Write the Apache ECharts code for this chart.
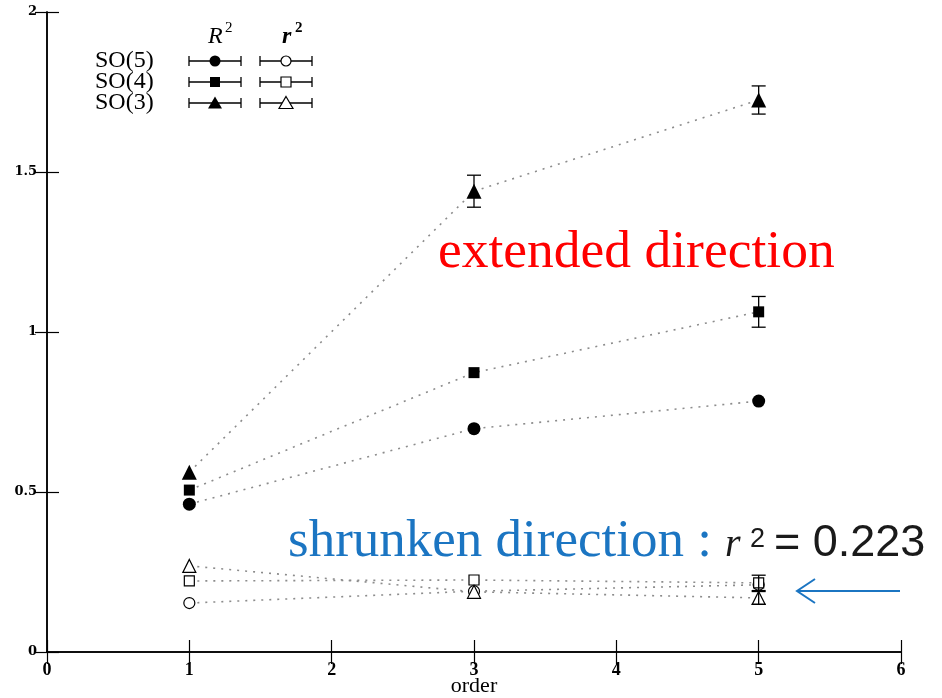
<!DOCTYPE html>
<html>
<head>
<meta charset="utf-8">
<script src="https://cdn.jsdelivr.net/npm/echarts@6/dist/echarts.min.js"></script>
<style>
  html, body { margin: 0; padding: 0; background: #fff; }
  #chart { width: 942px; height: 698px; }
</style>
</head>
<body>
<div id="chart"></div>
<script>
// Perturbation order on the horizontal axis
const orders = [1, 3, 5];

// Mean-square radius R^2 (extended direction) per group
const R2_SO5 = [0.462, 0.698, 0.784];
const R2_SO4 = [0.506, 0.873, 1.063];
const R2_SO3 = [0.562, 1.440, 1.725];
const R2_SO5_err = [0, 0, 0];
const R2_SO4_err = [0, 0, 0.048];
const R2_SO3_err = [0, 0.050, 0.044];

// Mean-square radius r^2 (shrunken direction) per group
const r2_SO5 = [0.153, 0.190, 0.210];
const r2_SO4 = [0.222, 0.225, 0.216];
const r2_SO3 = [0.269, 0.188, 0.169];
const r2_SO5_err = [0, 0, 0];
const r2_SO4_err = [0, 0, 0.024];
const r2_SO3_err = [0, 0, 0.020];

// Axis ticks
const xTicks = [0, 1, 2, 3, 4, 5, 6];
const yTicks = [0, 0.5, 1, 1.5, 2];
const xAxisTitle = 'order';
const groupNames = ['SO(5)', 'SO(4)', 'SO(3)'];

const chart = echarts.init(document.getElementById('chart'), null, { renderer: 'canvas' });

const dotLine = { color: '#8c8c8c', width: 1.6, type: [2, 6] };
const filled = { color: '#000', borderColor: '#000', borderWidth: 0 };
const hollow = { color: '#fff', borderColor: '#000', borderWidth: 1.2 };

function pairs(vals) { return orders.map((x, i) => [x, vals[i]]); }
function errPairs(vals, errs) {
  return orders.map((x, i) => [x, vals[i], errs[i]]).filter(d => d[2] > 0);
}

function lineSeries(name, vals, symbol, size, style) {
  return {
    name, type: 'line', data: pairs(vals),
    symbol, symbolSize: size, showSymbol: true,
    lineStyle: dotLine, itemStyle: style,
    emphasis: { disabled: true }, z: 3, animation: false
  };
}

function errSeries(vals, errs) {
  return {
    type: 'custom', data: errPairs(vals, errs), z: 4, animation: false,
    renderItem(params, api) {
      const x = api.value(0), y = api.value(1), e = api.value(2);
      const top = api.coord([x, y + e]);
      const bot = api.coord([x, y - e]);
      const cap = 7;
      const st = { stroke: '#000', lineWidth: 1.3 };
      return {
        type: 'group',
        children: [
          { type: 'line', shape: { x1: top[0], y1: top[1], x2: bot[0], y2: bot[1] }, style: st },
          { type: 'line', shape: { x1: top[0] - cap, y1: top[1], x2: top[0] + cap, y2: top[1] }, style: st },
          { type: 'line', shape: { x1: bot[0] - cap, y1: bot[1], x2: bot[0] + cap, y2: bot[1] }, style: st }
        ]
      };
    }
  };
}

// Legend block drawn with graphic shapes
const legendX = [215, 286];
const legendRowsY = [61, 82, 103];
const legendGraphics = [];
const blue = '#1b75c2';
const dark = '#1a1a1a';
function legendSample(cx, cy, kind, isFilled) {
  const st = { stroke: '#000', lineWidth: 1.3 };
  legendGraphics.push({ type: 'line', shape: { x1: cx - 26, y1: cy, x2: cx + 26, y2: cy }, style: st });
  legendGraphics.push({ type: 'line', shape: { x1: cx - 26, y1: cy - 5, x2: cx - 26, y2: cy + 5 }, style: st });
  legendGraphics.push({ type: 'line', shape: { x1: cx + 26, y1: cy - 5, x2: cx + 26, y2: cy + 5 }, style: st });
  const ms = isFilled ? { fill: '#000', stroke: '#000', lineWidth: 0 } : { fill: '#fff', stroke: '#000', lineWidth: 1.2 };
  if (kind === 'circle') {
    legendGraphics.push({ type: 'circle', shape: { cx, cy, r: isFilled ? 5.5 : 5 }, style: ms, z: 10 });
  } else if (kind === 'rect') {
    legendGraphics.push({ type: 'rect', shape: { x: cx - 5, y: cy - 5, width: 10, height: 10 }, style: ms, z: 10 });
  } else {
    legendGraphics.push({ type: 'polygon', shape: { points: [[cx, cy - 6.5], [cx + 7, cy + 5.5], [cx - 7, cy + 5.5]] }, style: ms, z: 10 });
  }
}
const kinds = ['circle', 'rect', 'triangle'];
legendRowsY.forEach((y, i) => {
  legendGraphics.push({
    type: 'text', x: 95, y: y, style: {
      text: groupNames[i], fill: '#000', font: '24px "Liberation Serif"',
      verticalAlign: 'middle'
    }
  });
  legendSample(legendX[0], y, kinds[i], true);
  legendSample(legendX[1], y, kinds[i], false);
});
legendGraphics.push({ type: 'text', x: 208, y: 37, style: { text: 'R', fill: '#000', font: 'italic 24px "Liberation Serif"', verticalAlign: 'middle' } });
legendGraphics.push({ type: 'text', x: 225, y: 28, style: { text: '2', fill: '#000', font: '15px "Liberation Serif"', verticalAlign: 'middle' } });
legendGraphics.push({ type: 'text', x: 282, y: 37, style: { text: 'r', fill: '#000', font: 'italic bold 24px "Liberation Serif"', verticalAlign: 'middle' } });
legendGraphics.push({ type: 'text', x: 295, y: 28, style: { text: '2', fill: '#000', font: 'bold 15px "Liberation Serif"', verticalAlign: 'middle' } });

// Annotations and the horizontal axis title
const annotations = [
  { type: 'text', x: 474, y: 686, style: { text: xAxisTitle, fill: '#000', font: '22px "Liberation Serif"', align: 'center', verticalAlign: 'middle' } },
  { type: 'text', x: 438, y: 226, style: { text: 'extended direction', fill: '#ff0000', font: '53.5px "Liberation Serif"', verticalAlign: 'top' } },
  { type: 'text', x: 288, y: 516, style: { text: 'shrunken direction :', fill: blue, font: '53px "Liberation Serif"', verticalAlign: 'top' } },
  { type: 'text', x: 725, y: 525, style: { text: 'r', fill: dark, font: 'italic 40px "Liberation Serif"', verticalAlign: 'top' } },
  { type: 'text', x: 750, y: 526, style: { text: '2', fill: dark, font: '27px "Liberation Sans"', verticalAlign: 'top' } },
  { type: 'text', x: 774, y: 521, style: { text: '= 0.223', fill: dark, font: '45px "Liberation Sans"', verticalAlign: 'top' } },
  { type: 'polyline', shape: { points: [[900, 591], [797, 591]] }, style: { stroke: blue, lineWidth: 2 } },
  { type: 'polyline', shape: { points: [[815, 579], [797, 591], [815, 603]] }, style: { stroke: blue, lineWidth: 2, fill: null } }
];

const axisLine = { show: true, lineStyle: { color: '#000', width: 1.5 } };
const tick = { show: true, inside: true, length: 12, lineStyle: { color: '#000', width: 1.2 } };

chart.setOption({
  backgroundColor: '#fff',
  animation: false,
  grid: { left: 47, right: 41, top: 12, bottom: 46, containLabel: false, outerBoundsMode: 'none' },
  xAxis: [
    {
      type: 'value', min: xTicks[0], max: xTicks[xTicks.length - 1], interval: 1,
      axisLine, axisTick: tick, splitLine: { show: false },
      axisLabel: { margin: 9, fontFamily: 'Liberation Serif', fontWeight: 'bold', fontSize: 18, color: '#000' }
    },
    {
      type: 'value', position: 'top', min: xTicks[0], max: xTicks[xTicks.length - 1], interval: 1,
      axisLine, axisTick: tick, splitLine: { show: false }, axisLabel: { show: false }
    }
  ],
  yAxis: [
    {
      type: 'value', min: yTicks[0], max: yTicks[yTicks.length - 1], interval: 0.5,
      axisLine, axisTick: tick, splitLine: { show: false },
      axisLabel: { margin: 10, fontFamily: 'DejaVu Serif', fontWeight: 'bold', fontSize: 13, color: '#000' }
    },
    {
      type: 'value', position: 'right', min: yTicks[0], max: yTicks[yTicks.length - 1], interval: 0.5,
      axisLine, axisTick: tick, splitLine: { show: false }, axisLabel: { show: false }
    }
  ],
  series: [
    lineSeries('R2 SO(5)', R2_SO5, 'circle', 13, filled),
    lineSeries('R2 SO(4)', R2_SO4, 'rect', 11, filled),
    lineSeries('R2 SO(3)', R2_SO3, 'triangle', 15, filled),
    lineSeries('r2 SO(5)', r2_SO5, 'circle', 11, hollow),
    lineSeries('r2 SO(4)', r2_SO4, 'rect', 10, hollow),
    lineSeries('r2 SO(3)', r2_SO3, 'triangle', 13, hollow),
    errSeries(R2_SO5, R2_SO5_err),
    errSeries(R2_SO4, R2_SO4_err),
    errSeries(R2_SO3, R2_SO3_err),
    errSeries(r2_SO5, r2_SO5_err),
    errSeries(r2_SO4, r2_SO4_err),
    errSeries(r2_SO3, r2_SO3_err)
  ],
  graphic: legendGraphics.concat(annotations)
});
</script>
</body>
</html>
